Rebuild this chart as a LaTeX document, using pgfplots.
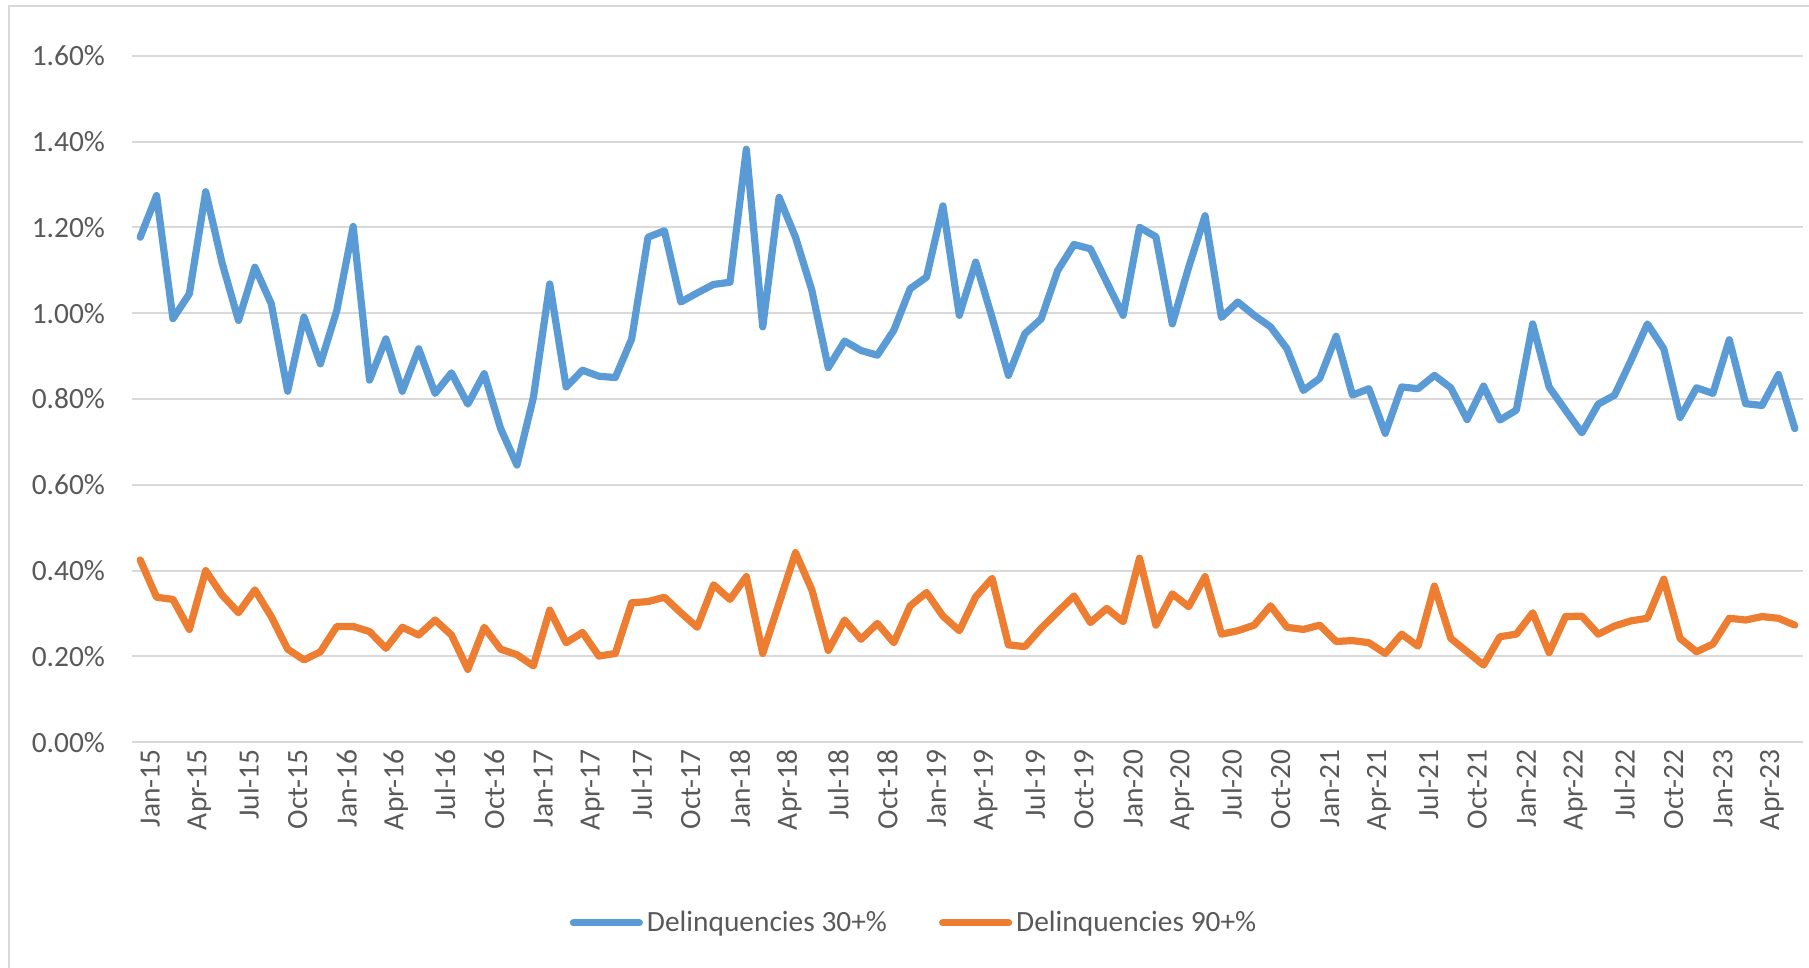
\documentclass[border=0pt]{standalone}
\usepackage{pgfplots}
\pgfplotsset{compat=1.18}
\usepackage{pgfplotstable}
\usepackage{fontspec}
\setmainfont{Carlito}
\definecolor{txt}{HTML}{595959}
\definecolor{grd}{HTML}{D9D9D9}
\definecolor{blu}{HTML}{5B9BD5}
\definecolor{org}{HTML}{ED7D31}
\pgfplotstableread{
i a b
0 1.177 0.425
1 1.274 0.338
2 0.987 0.333
3 1.045 0.263
4 1.283 0.400
5 1.117 0.343
6 0.983 0.302
7 1.107 0.355
8 1.022 0.293
9 0.818 0.217
10 0.991 0.192
11 0.882 0.211
12 1.006 0.270
13 1.202 0.270
14 0.844 0.258
15 0.940 0.219
16 0.818 0.268
17 0.917 0.250
18 0.813 0.285
19 0.861 0.250
20 0.788 0.170
21 0.859 0.268
22 0.731 0.217
23 0.646 0.204
24 0.803 0.178
25 1.068 0.308
26 0.828 0.232
27 0.867 0.256
28 0.853 0.201
29 0.850 0.207
30 0.940 0.325
31 1.177 0.328
32 1.192 0.338
33 1.026 0.302
34 1.047 0.268
35 1.067 0.367
36 1.072 0.333
37 1.382 0.386
38 0.968 0.207
39 1.270 0.324
40 1.177 0.442
41 1.053 0.355
42 0.873 0.214
43 0.935 0.285
44 0.913 0.240
45 0.902 0.277
46 0.960 0.232
47 1.057 0.318
48 1.084 0.349
49 1.250 0.294
50 0.995 0.260
51 1.119 0.339
52 0.990 0.382
53 0.855 0.227
54 0.952 0.223
55 0.987 0.266
56 1.099 0.304
57 1.160 0.341
58 1.150 0.279
59 1.072 0.312
60 0.995 0.281
61 1.200 0.429
62 1.178 0.273
63 0.975 0.346
64 1.107 0.316
65 1.227 0.386
66 0.990 0.252
67 1.026 0.260
68 0.995 0.273
69 0.968 0.318
70 0.917 0.268
71 0.820 0.263
72 0.848 0.273
73 0.946 0.235
74 0.809 0.237
75 0.824 0.232
76 0.720 0.207
77 0.828 0.252
78 0.824 0.224
79 0.855 0.364
80 0.826 0.242
81 0.752 0.211
82 0.830 0.180
83 0.751 0.246
84 0.774 0.252
85 0.975 0.302
86 0.828 0.209
87 0.774 0.293
88 0.721 0.294
89 0.788 0.252
90 0.809 0.271
91 0.890 0.283
92 0.975 0.289
93 0.917 0.380
94 0.757 0.242
95 0.826 0.211
96 0.813 0.229
97 0.938 0.289
98 0.789 0.285
99 0.785 0.293
100 0.857 0.289
101 0.731 0.273
}\datatable
\begin{document}
\begin{tikzpicture}
\useasboundingbox (0,0) rectangle (904.5pt,484pt);
\draw[grd, line width=1pt] (4.5pt,0pt) -- (4.5pt,481.2pt) -- (904.5pt,481.2pt);
\begin{axis}[
  at={(66pt,112.85pt)}, anchor=south west,
  scale only axis, width=835.5pt, height=343.3pt,
  xmin=-0.5, xmax=101.5, ymin=0, ymax=1.6,
  ytick={0,0.2,0.4,0.6,0.8,1.0,1.2,1.4,1.6},
  yticklabel={\pgfmathprintnumber[fixed,fixed zerofill,precision=2,assume math mode=true]{\tick}\%},
  xtick={0,3,...,99},
  xticklabels={Jan-15,Apr-15,Jul-15,Oct-15,Jan-16,Apr-16,Jul-16,Oct-16,Jan-17,Apr-17,Jul-17,Oct-17,Jan-18,Apr-18,Jul-18,Oct-18,Jan-19,Apr-19,Jul-19,Oct-19,Jan-20,Apr-20,Jul-20,Oct-20,Jan-21,Apr-21,Jul-21,Oct-21,Jan-22,Apr-22,Jul-22,Oct-22,Jan-23,Apr-23},
  tick label style={font=\fontsize{14.7}{17}\selectfont, text=txt},
  yticklabel style={xshift=-10pt},
  xticklabel style={rotate=90, anchor=east, yshift=-5pt},
  axis line style={draw=none},
  major tick length=0pt,
  ymajorgrids,
  grid style={color=grd, line width=1pt},
  legend style={at={(0.4686,-0.263)}, anchor=center, draw=none, fill=none,
    legend columns=2, font=\fontsize{14.7}{17}\selectfont, text=txt,
    /tikz/every even column/.append style={column sep=24pt}},
  legend image code/.code={\draw[#1, line width=3.6pt, line cap=round] (0pt,0pt) -- (33pt,0pt);},
  clip=false,
]
\addplot[blu, line width=3.6pt, line join=round, line cap=round] table[x=i, y=a] {\datatable};
\addlegendentry{Delinquencies 30+\%}
\addplot[org, line width=3.6pt, line join=round, line cap=round] table[x=i, y=b] {\datatable};
\addlegendentry{Delinquencies 90+\%}
\end{axis}
\end{tikzpicture}
\end{document}
